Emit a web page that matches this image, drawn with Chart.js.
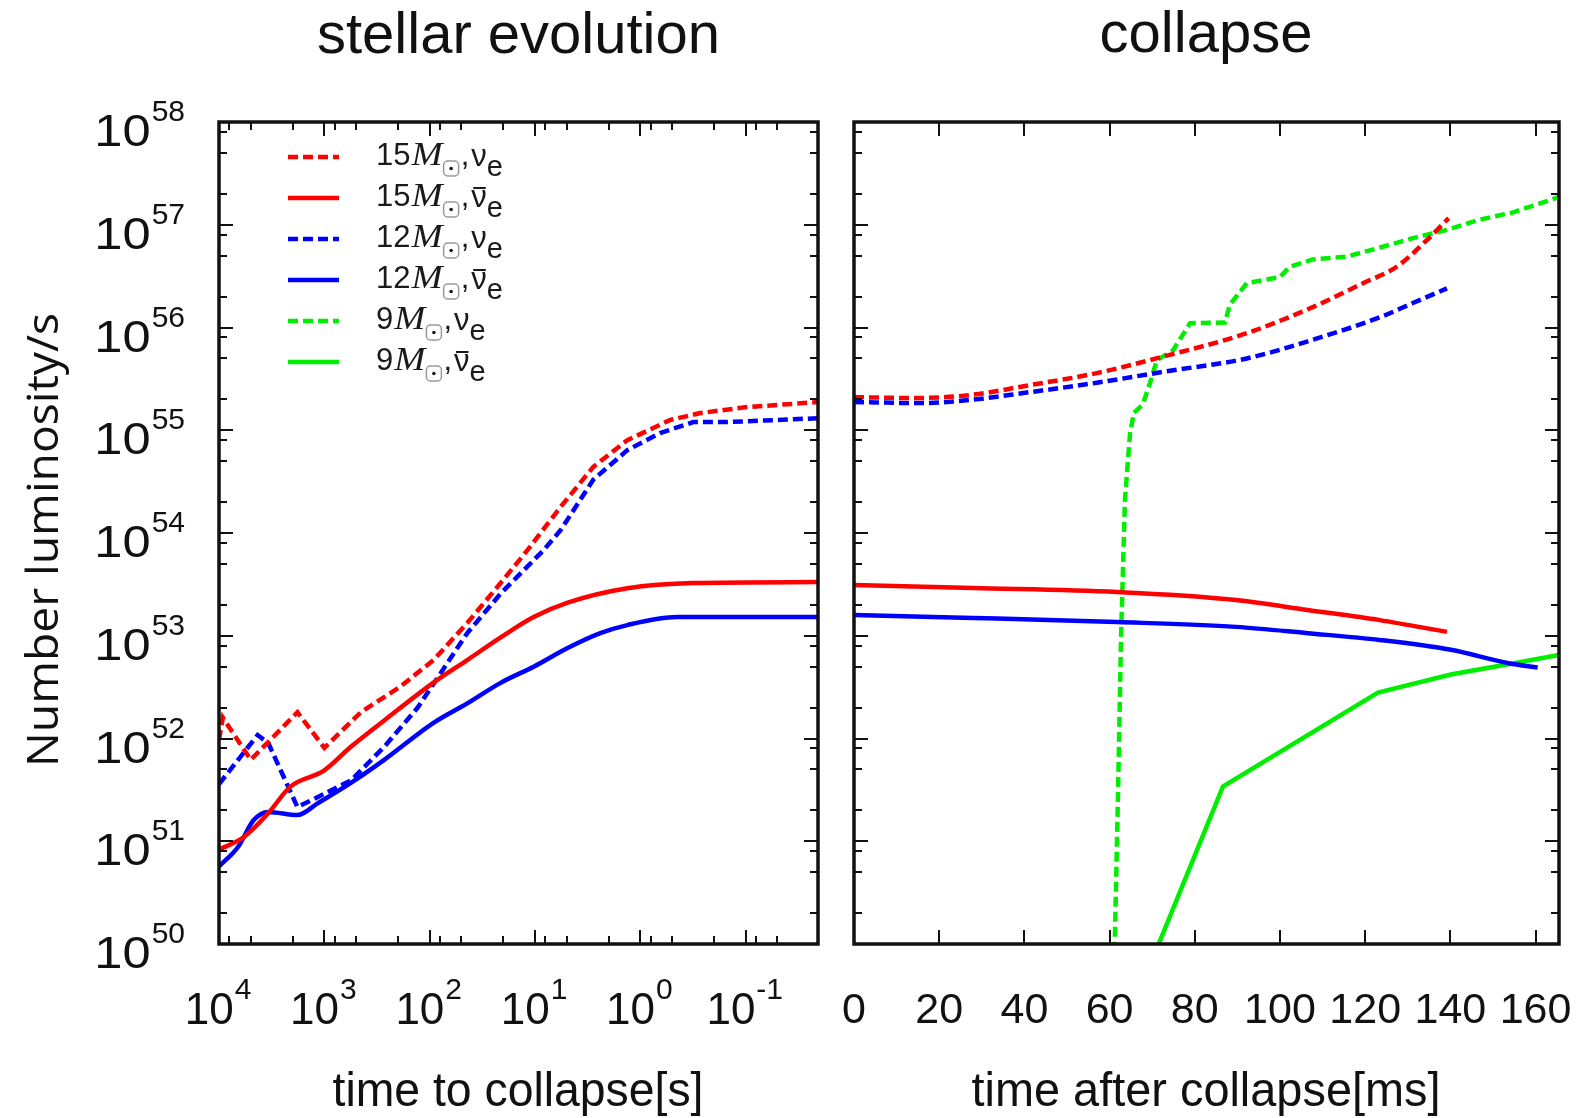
<!DOCTYPE html>
<html>
<head>
<meta charset="utf-8">
<title>Number luminosity: stellar evolution and collapse</title>
<script src="https://cdn.jsdelivr.net/npm/chart.js@4.4.1/dist/chart.umd.min.js"></script>
<style>
  html, body { margin: 0; padding: 0; background: #fff; }
  #wrap { position: relative; width: 1582px; height: 1118px; overflow: hidden; }
  canvas { position: absolute; top: 0; }
  #evo { left: 0; }
  #col { left: 836px; }
</style>
</head>
<body>
<div id="wrap">
  <canvas id="evo" width="836" height="1118"></canvas>
  <canvas id="col" width="746" height="1118"></canvas>
</div>
<script>
/* axes */
const yExp = [50, 51, 52, 53, 54, 55, 56, 57, 58];   // 10^50 .. 10^58
const minorMant = [2, 5, 8];
const evoExp = [4, 3, 2, 1, 0, -1];                  // time to collapse [s]
const evoMin = 0.0206, evoMax = 1e4;
const colTicks = [0, 20, 40, 60, 80, 100, 120, 140, 160]; // time after collapse [ms]
const colMax = 165.5;

/* stellar evolution: [time to collapse (s), number luminosity (1/s)] */
const evo15Nue = [[1e4, 9.7e51], [9200, 1.6e52], [5000, 6.2e51], [1800, 1.8e52], [1000, 8.1e51],
  [450, 1.8e52], [190, 3.2e52], [92, 5.8e52], [44, 1.33e53], [21, 3.3e53], [11.8, 6.8e53],
  [5.7, 1.8e54], [2.8, 4.4e54], [1.33, 8.0e54], [0.52, 1.26e55], [0.27, 1.47e55],
  [0.097, 1.68e55], [0.0206, 1.88e55]];
const evo15Anue = [[1e4, 8.3e50], [5800, 1.1e51], [3400, 1.88e51], [2100, 3.4e51], [1000, 4.9e51],
  [560, 8.3e51], [270, 1.5e52], [92, 3.5e52], [44, 5.8e52], [21, 9.7e52], [10.3, 1.52e53],
  [4.9, 2.1e53], [1.33, 2.9e53], [0.315, 3.26e53], [0.0206, 3.33e53]];
const evo12Nue = [[1e4, 3.6e51], [4300, 1.08e52], [3400, 9.0e51], [1800, 2.15e51], [1150, 2.7e51],
  [560, 3.9e51], [270, 8.3e51], [130, 2.0e52], [79, 4.3e52], [44, 1.06e53], [21, 2.6e53],
  [8.3, 6.8e53], [5.7, 1.07e54], [2.8, 3.3e54], [1.33, 6.4e54], [0.65, 9.4e54],
  [0.315, 1.2e55], [0.15, 1.2e55], [0.0206, 1.31e55]];
const evo12Anue = [[1e4, 5.7e50], [6600, 8.8e50], [4700, 1.6e51], [3400, 1.93e51], [1800, 1.8e51],
  [1150, 2.35e51], [560, 3.7e51], [270, 6.2e51], [92, 1.42e52], [44, 2.2e52], [21, 3.5e52],
  [10.3, 5.0e52], [4.9, 7.6e52], [2.4, 1.06e53], [1.33, 1.27e53], [0.45, 1.52e53],
  [0.0206, 1.52e53]];

/* collapse: [time after collapse (ms), number luminosity (1/s)] */
const col15Nue = [[0, 2.1e55], [13.8, 2.06e55], [27.2, 2.2e55], [41.3, 2.75e55], [57, 3.6e55],
  [72.5, 5.2e55], [92.2, 8.8e55], [107.7, 1.58e56], [119.5, 2.7e56], [127.4, 3.9e56],
  [134.5, 7.1e56], [139.6, 1.16e57]];
const col15Anue = [[0, 3.12e53], [28, 2.92e53], [61.7, 2.67e53], [89.7, 2.23e53], [106.5, 1.78e53],
  [123.4, 1.42e53], [139.2, 1.09e53]];
const col12Nue = [[0, 1.88e55], [15.5, 1.84e55], [27.2, 1.97e55], [41.3, 2.35e55], [57, 2.9e55],
  [72.5, 3.7e55], [92.2, 5.0e55], [107.7, 7.6e55], [123.5, 1.26e56], [131.2, 1.73e56],
  [139.2, 2.4e56]];
const col12Anue = [[0, 1.59e53], [28, 1.49e53], [61.7, 1.36e53], [89.7, 1.22e53], [106.5, 1.06e53],
  [123.4, 9.1e52], [140.1, 7.3e52], [153.7, 5.4e52], [160.5, 4.9e52]];
const col9Nue = [[61.1, 6e49], [62, 3.2e51], [62.7, 1e53], [63.6, 2.1e54], [64.8, 9.3e54],
  [65.7, 1.48e55], [67.8, 1.78e55], [69.5, 2.9e55], [71.1, 4.8e55], [74.9, 6.0e55],
  [78.9, 1.1e56], [87.1, 1.12e56], [88.2, 1.66e56], [92.2, 2.7e56], [100, 3.1e56],
  [102.3, 3.9e56], [107.7, 4.6e56], [115.7, 4.9e56], [123.5, 6.0e56], [131.2, 7.4e56],
  [139.2, 8.9e56], [146.9, 1.12e57], [154.7, 1.32e57], [165.5, 1.86e57]];
const col9Anue = [[70, 7e49], [86.6, 3.4e51], [123, 2.8e52], [140.1, 4.2e52], [154.9, 5.4e52],
  [165.5, 6.5e52]];

/* legend */
const legMass = ["15", "15", "12", "12", "9", "9"];
const legAnti = [false, true, false, true, false, true];

const RED = "#ff0000", BLUE = "#0000ff", GREEN = "#00ee00";
const legColor = [RED, RED, BLUE, BLUE, GREEN, GREEN];
const DASH = [10, 5];
const SANS = '"Liberation Sans", Arial, sans-serif';

function ds(pts, color, dashed, smooth) {
  return {
    data: pts.map(([x, y]) => ({ x, y })),
    borderColor: color, borderWidth: 4.5, borderDash: dashed ? DASH : [],
    pointRadius: 0, tension: 0, fill: false,
    cubicInterpolationMode: smooth ? "monotone" : "default",
  };
}

function txt(ctx, s, x, y, font, align, sx) {
  sx = sx || 1;
  ctx.save();
  ctx.font = font;
  const w = ctx.measureText(s).width * sx;
  let x0 = x;
  if (align === "center") x0 = x - w / 2;
  else if (align === "right") x0 = x - w;
  ctx.translate(x0, y);
  ctx.scale(sx, 1);
  ctx.textAlign = "left";
  ctx.textBaseline = "alphabetic";
  ctx.fillText(s, 0, 0);
  ctx.restore();
  return w;
}

function fitText(ctx, s, cx, y, font, width) {
  ctx.font = font;
  const w = ctx.measureText(s).width;
  txt(ctx, s, cx, y, font, "center", width / w);
}

// "10" with raised exponent
function pow10(ctx, e, x, y, align, sx) {
  sx = sx || 1;
  const fb = "44px " + SANS, fe = "30px " + SANS;
  ctx.font = fb; const wb = ctx.measureText("10").width * sx;
  ctx.font = fe; const we = ctx.measureText(String(e)).width;
  const tot = wb + we + 1;
  let x0 = align === "right" ? x - tot : x - tot / 2;
  txt(ctx, "10", x0, y, fb, "left", sx);
  txt(ctx, String(e), x0 + wb + 1, y - 25, fe, "left");
}

function frame(chart, xMaj, xMin) {
  const { ctx, chartArea: a, scales: { x, y } } = chart;
  ctx.save();
  ctx.strokeStyle = "#111";
  ctx.lineWidth = 2;
  const yMaj = yExp.map(e => Math.pow(10, e));
  const yMin = [];
  yExp.slice(0, -1).forEach(e => minorMant.forEach(m => yMin.push(m * Math.pow(10, e))));
  ctx.beginPath();
  const ytick = (v, len) => {
    const p = Math.round(y.getPixelForValue(v));
    ctx.moveTo(a.left, p); ctx.lineTo(a.left + len, p);
    ctx.moveTo(a.right, p); ctx.lineTo(a.right - len, p);
  };
  const xtick = (v, len) => {
    const p = Math.round(x.getPixelForValue(v));
    if (p < a.left - 1 || p > a.right + 1) return;
    ctx.moveTo(p, a.bottom); ctx.lineTo(p, a.bottom - len);
    ctx.moveTo(p, a.top); ctx.lineTo(p, a.top + len);
  };
  yMaj.forEach(v => ytick(v, 14));
  yMin.forEach(v => ytick(v, 8));
  xMaj.forEach(v => xtick(v, 14));
  xMin.forEach(v => xtick(v, 8));
  ctx.stroke();
  ctx.lineWidth = 3.5;
  ctx.strokeRect(a.left, a.top, a.right - a.left, a.bottom - a.top);
  ctx.restore();
}

function legendRow(ctx, i) {
  const yc = 157 + i * 41;
  ctx.save();
  ctx.strokeStyle = legColor[i];
  ctx.lineWidth = 4.5;
  ctx.setLineDash(i % 2 === 0 ? DASH : []);
  ctx.beginPath(); ctx.moveTo(288, yc); ctx.lineTo(339, yc); ctx.stroke();
  ctx.setLineDash([]);
  ctx.fillStyle = "#1a1a1a";
  let x = 376;
  x += txt(ctx, legMass[i], x, yc + 8, "31px " + SANS, "left");
  x += txt(ctx, "M", x + 1, yc + 8, 'italic 34px "Liberation Serif", serif', "left", 1.1) + 2;
  // sun symbol: dot in a small rounded box
  ctx.strokeStyle = "#9a9a9a";
  ctx.lineWidth = 1.5;
  ctx.beginPath();
  ctx.roundRect(x, yc + 4, 15, 15, 4);
  ctx.stroke();
  ctx.beginPath();
  ctx.arc(x + 7.5, yc + 11.5, 1.8, 0, Math.PI * 2);
  ctx.fill();
  x += 17;
  x += txt(ctx, ",", x, yc + 8, "31px " + SANS, "left") + 2;
  const wn = txt(ctx, "\u03bd", x, yc + 9, "31px " + SANS, "left");
  if (legAnti[i]) ctx.fillRect(x + 2, yc - 11, wn - 3, 2);
  x += wn;
  txt(ctx, "e", x, yc + 19, "29px " + SANS, "left");
  ctx.restore();
}

const evoDeco = {
  id: "evoDeco",
  afterDraw(chart) {
    const ctx = chart.ctx, x = chart.scales.x, a = chart.chartArea;
    const xMaj = evoExp.map(e => Math.pow(10, e));
    const xMin = [];
    [-2, -1, 0, 1, 2, 3].forEach(e => minorMant.forEach(m => {
      const v = m * Math.pow(10, e);
      if (v > evoMin && v < evoMax) xMin.push(v);
    }));
    frame(chart, xMaj, xMin);
    ctx.save();
    ctx.fillStyle = "#111";
    // y tick labels
    yExp.forEach(e => pow10(ctx, e, 185, chart.scales.y.getPixelForValue(Math.pow(10, e)) + 24, "right", 1.15));
    // x tick labels
    evoExp.forEach(e => pow10(ctx, e, x.getPixelForValue(Math.pow(10, e)) - 1, 1024, "center"));
    txt(ctx, "stellar evolution", (a.left + a.right) / 2, 53, "58px " + SANS, "center");
    fitText(ctx, "time to collapse[s]", 518, 1106, "48px " + SANS, 371);
    // y axis title
    ctx.save();
    ctx.translate(58, 540);
    ctx.rotate(-Math.PI / 2);
    fitText(ctx, "Number luminosity/s", 0, 0, '44px "Open Sans", sans-serif', 454);
    ctx.restore();
    for (let i = 0; i < legMass.length; i++) legendRow(ctx, i);
    ctx.restore();
  },
};

const colDeco = {
  id: "colDeco",
  afterDraw(chart) {
    const ctx = chart.ctx, x = chart.scales.x;
    frame(chart, colTicks, []);
    ctx.save();
    ctx.fillStyle = "#111";
    colTicks.forEach(v => txt(ctx, String(v), x.getPixelForValue(v), 1023, "43px " + SANS, "center"));
    txt(ctx, "collapse", 1206 - 836, 52, "58px " + SANS, "center");
    fitText(ctx, "time after collapse[ms]", 1206 - 836, 1106, "48px " + SANS, 469);
    ctx.restore();
  },
};

const yScale = { type: "logarithmic", min: 1e50, max: 1e58, display: false };

function makeChart(id, datasets, xScale, pad, deco) {
  return new Chart(document.getElementById(id), {
    type: "line",
    data: { datasets },
    options: {
      responsive: false, animation: false, devicePixelRatio: 1,
      layout: { padding: pad },
      plugins: { legend: { display: false }, tooltip: { enabled: false }, title: { display: false } },
      scales: { x: xScale, y: yScale },
      events: [],
    },
    plugins: [deco],
  });
}

makeChart("evo", [
  ds(evo15Nue, RED, true, false),
  ds(evo15Anue, RED, false, true),
  ds(evo12Nue, BLUE, true, false),
  ds(evo12Anue, BLUE, false, true),
], { type: "logarithmic", reverse: true, min: evoMin, max: evoMax, display: false },
  { left: 219, right: 18, top: 122, bottom: 174 }, evoDeco);

makeChart("col", [
  ds(col15Nue, RED, true, true),
  ds(col15Anue, RED, false, true),
  ds(col12Nue, BLUE, true, true),
  ds(col12Anue, BLUE, false, true),
  ds(col9Nue, GREEN, true, false),
  ds(col9Anue, GREEN, false, false),
], { type: "linear", min: 0, max: colMax, display: false },
  { left: 18, right: 23, top: 122, bottom: 174 }, colDeco);
</script>
</body>
</html>
